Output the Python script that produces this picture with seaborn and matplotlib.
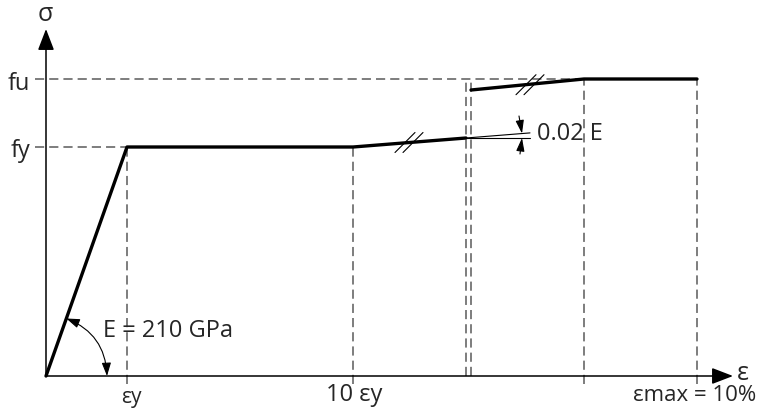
import numpy as np
import matplotlib
matplotlib.use("Agg")
import matplotlib.pyplot as plt
import seaborn as sns

# Schematic stress-strain diagram (bilinear steel model with hardening)
# Strain / stress in schematic drawing units (axis is broken, not to scale)
eps_y = 81        # yield strain
eps_10y = 307     # end of yield plateau (10 eps_y)
eps_a = 420       # end of first hardening branch (break)
eps_b = 425       # start of second hardening branch (after break)
eps_u = 538       # strain at ultimate stress
eps_max = 651     # eps_max = 10 %
f_y = 229         # yield stress
f_u = 297         # ultimate stress
f_a = 238         # stress at end of first hardening branch
f_b = 286         # stress at start of second hardening branch

strain_low = [0, eps_y, eps_10y, eps_a]
stress_low = [0, f_y, f_y, f_a]
strain_up = [eps_b, eps_u, eps_max]
stress_up = [f_b, f_u, f_u]

sns.set_style("white")
plt.rcParams["font.family"] = ["Open Sans", "DejaVu Sans"]

fig = plt.figure(figsize=(7.59, 4.10), dpi=100)
ax = fig.add_axes([0, 0, 1, 1])
ax.set_xlim(-46, 713)
ax.set_ylim(-33, 377)
ax.set_aspect("equal")
ax.axis("off")

dash = (0, (6, 3.3))
gray = "#5a5a5a"
lw_d = 1.1

# reference lines
ax.plot([-11, eps_max], [f_u, f_u], ls=dash, color=gray, lw=lw_d)
ax.plot([-11, eps_y], [f_y, f_y], ls=dash, color=gray, lw=lw_d)
for xv, top in [(eps_y, f_y), (eps_10y, f_y), (eps_u, f_u), (eps_max, f_u)]:
    ax.plot([xv, xv], [-8, top], ls=dash, color=gray, lw=lw_d)
for xv in [eps_a, eps_b]:
    ax.plot([xv, xv], [0, f_u], ls=dash, color=gray, lw=lw_d)

# axes with arrows
arrow_kw = dict(arrowstyle="-|>,head_length=1.3,head_width=0.5", lw=1.1,
                color="black", mutation_scale=10, shrinkA=0, shrinkB=0)
ax.annotate("", xy=(0, 347), xytext=(0, 0), arrowprops=arrow_kw)
ax.annotate("", xy=(687, 0), xytext=(0, 0), arrowprops=arrow_kw)

# stress-strain curve
sns.lineplot(x=strain_low, y=stress_low, sort=False, color="black", lw=2.4, ax=ax)
sns.lineplot(x=strain_up, y=stress_up, sort=False, color="black", lw=2.4, ax=ax)

# break marks
for cx, cy in [(359, 233.5), (367, 233.5), (480, 291.3), (488, 291.3)]:
    ax.plot([cx - 10, cx + 10], [cy - 10, cy + 10], color="black", lw=0.8)

# hardening slope indicator (0.02 E)
slope = (f_a - f_y) / (eps_a - eps_10y)
ax.plot([eps_a, 484], [f_a, f_a + slope * (484 - eps_a)], color="black", lw=0.8)
ax.plot([eps_a, 484], [f_a, f_a], color="black", lw=0.8)
small_kw = dict(arrowstyle="-|>,head_length=0.8,head_width=0.25", lw=0.8,
                color="black", mutation_scale=10, shrinkA=0, shrinkB=0)
ax.annotate("", xy=(476, f_a + slope * (476 - eps_a)), xytext=(473, 260), arrowprops=small_kw)
ax.annotate("", xy=(476, f_a), xytext=(474, 222), arrowprops=small_kw)
ax.text(491, 243, "0.02 E", fontsize=17, va="center", ha="left")

# elastic modulus arc
ang = np.arctan2(f_y, eps_y)
R = 61
arc_kw = dict(arrowstyle="<|-|>,head_length=0.8,head_width=0.28", lw=0.8,
              color="black", mutation_scale=10, shrinkA=0, shrinkB=0,
              connectionstyle="arc3,rad=0.32")
ax.annotate("", xy=(R * np.cos(ang), R * np.sin(ang)), xytext=(R, 0), arrowprops=arc_kw)
ax.text(57, 46, "E = 210 GPa", fontsize=17, va="center", ha="left")

# labels
ax.text(-0.5, 356, "σ", fontsize=18, ha="center", va="baseline")
ax.text(691, -3, "ε", fontsize=18, ha="left", va="baseline")
ax.text(-16, 287, "fu", fontsize=17, ha="right", va="baseline")
ax.text(-16, 220, "fy", fontsize=17, ha="right", va="baseline")
ax.text(85, -26, "εy", fontsize=15, ha="center", va="baseline")
ax.text(308, -24, "10 εy", fontsize=17, ha="center", va="baseline")
ax.text(649, -24, "εmax = 10%", fontsize=16, ha="center", va="baseline")

fig.savefig("out.png", dpi=100)
